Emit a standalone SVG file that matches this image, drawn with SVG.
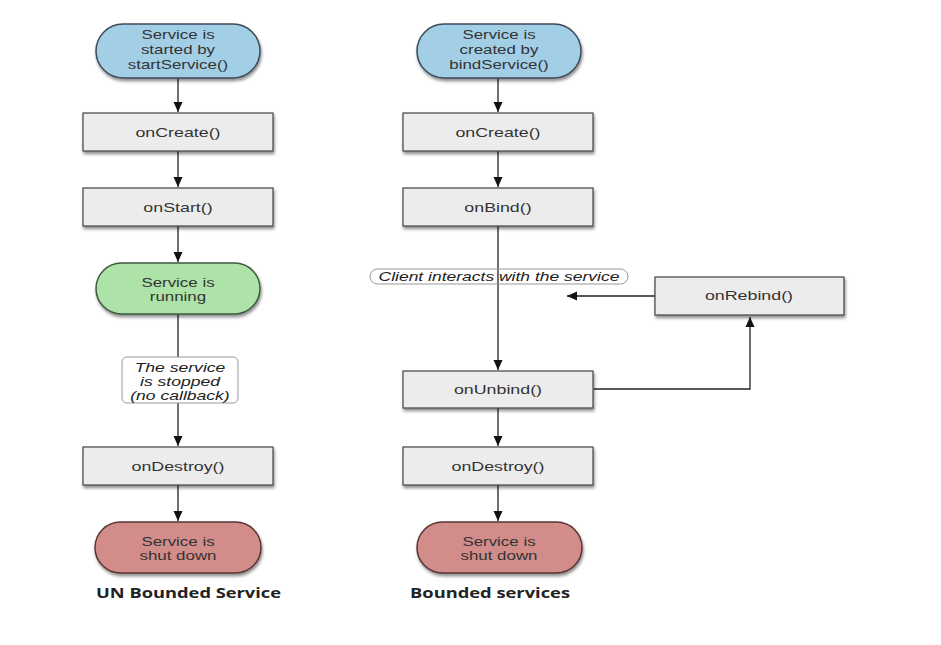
<svg xmlns="http://www.w3.org/2000/svg" width="941" height="645" viewBox="0 0 941 645">
<defs>
<filter id="sh" x="-10%" y="-20%" width="130%" height="160%">
<feDropShadow dx="1" dy="2.5" stdDeviation="1.8" flood-color="#000" flood-opacity="0.45"/>
</filter>
<marker id="ah" markerWidth="11" markerHeight="11" refX="10" refY="5.5" orient="auto" markerUnits="userSpaceOnUse">
<path d="M0,1 L10,5.5 L0,10 Z" fill="#111"/>
</marker>
</defs>
<style>
.box{fill:#ececec;stroke:#444;stroke-width:1.2;filter:url(#sh)}
.blue{fill:#a3cfe6;stroke:#3c4b58;stroke-width:1.5;filter:url(#sh)}
.green{fill:#ade3a8;stroke:#3c5a3c;stroke-width:1.5;filter:url(#sh)}
.red{fill:#d28c8a;stroke:#5a3434;stroke-width:1.5;filter:url(#sh)}
.lbl{fill:#ffffff;stroke:#999;stroke-width:1}
.lbl2{fill:none;stroke:#999;stroke-width:1}
.t{font-family:"Liberation Sans",Arial,sans-serif;font-size:13px;fill:#333;text-anchor:middle}
.it{font-family:"Liberation Sans",Arial,sans-serif;font-size:13px;font-style:italic;fill:#222;text-anchor:middle}
.it2{font-family:"Liberation Sans",Arial,sans-serif;font-size:12.5px;font-style:italic;fill:#222;text-anchor:middle}
.title{font-family:"Open Sans","DejaVu Sans",sans-serif;font-size:15px;font-weight:bold;fill:#222}
.c{stroke:#222;stroke-width:1.3;fill:none}
.ca{stroke:#222;stroke-width:1.3;fill:none;marker-end:url(#ah)}
</style>
<rect width="941" height="645" fill="#ffffff"/>

<g id="connectors">
<line class="ca" x1="178" y1="78" x2="178" y2="112"/>
<line class="ca" x1="178" y1="151" x2="178" y2="187"/>
<line class="ca" x1="178" y1="226" x2="178" y2="262"/>
<line class="c" x1="178" y1="314" x2="178" y2="357"/>
<line class="ca" x1="178" y1="403" x2="178" y2="446"/>
<line class="ca" x1="178" y1="485" x2="178" y2="521"/>
<line class="ca" x1="498" y1="78" x2="498" y2="112"/>
<line class="ca" x1="498" y1="151" x2="498" y2="187"/>
<line class="ca" x1="498" y1="226" x2="498" y2="370"/>
<line class="ca" x1="498" y1="408" x2="498" y2="446"/>
<line class="ca" x1="498" y1="485" x2="498" y2="521"/>
<polyline class="ca" points="594,389 750,389 750,317"/>
<line class="ca" x1="655" y1="296" x2="567" y2="296"/>
</g>

<g id="start1">
<rect class="blue" x="96" y="24" width="164" height="54" rx="27"/>
<g transform="matrix(1.3,0,0,1,-53.4,0)">
<text class="t" x="178" y="39">Service is</text>
<text class="t" x="178" y="54">started by</text>
<text class="t" x="178" y="69">startService()</text>
</g>
</g>
<g id="onCreate1">
<rect class="box" x="83" y="113" width="190" height="38"/>
<text class="t" x="178" y="137" transform="matrix(1.37,0,0,1,-65.86,0)">onCreate()</text>
</g>
<g id="onStart">
<rect class="box" x="83" y="188" width="190" height="38"/>
<text class="t" x="178" y="212" transform="matrix(1.37,0,0,1,-65.86,0)">onStart()</text>
</g>
<g id="running">
<rect class="green" x="96" y="263" width="164" height="51" rx="25.5"/>
<g transform="matrix(1.3,0,0,1,-53.4,0)">
<text class="t" x="178" y="287">Service is</text>
<text class="t" x="178" y="301">running</text>
</g>
</g>
<g id="stopped">
<rect class="lbl" x="122" y="357" width="116" height="46" rx="5"/>
<g transform="matrix(1.35,0,0,1,-63,0)">
<text class="it" x="180" y="372">The service</text>
<text class="it" x="180" y="386">is stopped</text>
<text class="it" x="180" y="400">(no callback)</text>
</g>
</g>
<g id="onDestroy1">
<rect class="box" x="83" y="447" width="190" height="38"/>
<text class="t" x="178" y="471" transform="matrix(1.37,0,0,1,-65.86,0)">onDestroy()</text>
</g>
<g id="shut1">
<rect class="red" x="95" y="522" width="166" height="51" rx="25.5"/>
<g transform="matrix(1.3,0,0,1,-53.4,0)">
<text class="t" x="178" y="546">Service is</text>
<text class="t" x="178" y="560">shut down</text>
</g>
</g>
<text class="title" x="96" y="598" textLength="185" lengthAdjust="spacingAndGlyphs">UN Bounded Service</text>

<g id="start2">
<rect class="blue" x="417" y="24" width="164" height="54" rx="27"/>
<g transform="matrix(1.3,0,0,1,-149.7,0)">
<text class="t" x="499" y="39">Service is</text>
<text class="t" x="499" y="54">created by</text>
<text class="t" x="499" y="69">bindService()</text>
</g>
</g>
<g id="onCreate2">
<rect class="box" x="403" y="113" width="190" height="38"/>
<text class="t" x="498" y="137" transform="matrix(1.37,0,0,1,-184.26,0)">onCreate()</text>
</g>
<g id="onBind">
<rect class="box" x="403" y="188" width="190" height="38"/>
<text class="t" x="498" y="212" transform="matrix(1.37,0,0,1,-184.26,0)">onBind()</text>
</g>
<g id="client">
<rect class="lbl2" x="370" y="269" width="258" height="15" rx="7.5"/>
<text class="it2" x="499" y="281" transform="matrix(1.4,0,0,1,-199.6,0)">Client interacts with the service</text>
</g>
<g id="onRebind">
<rect class="box" x="655" y="277" width="189" height="38"/>
<text class="t" x="749" y="300" transform="matrix(1.37,0,0,1,-277.13,0)">onRebind()</text>
</g>
<g id="onUnbind">
<rect class="box" x="403" y="371" width="190" height="37"/>
<text class="t" x="498" y="394" transform="matrix(1.37,0,0,1,-184.26,0)">onUnbind()</text>
</g>
<g id="onDestroy2">
<rect class="box" x="403" y="447" width="190" height="38"/>
<text class="t" x="498" y="471" transform="matrix(1.37,0,0,1,-184.26,0)">onDestroy()</text>
</g>
<g id="shut2">
<rect class="red" x="417" y="522" width="165" height="51" rx="25.5"/>
<g transform="matrix(1.3,0,0,1,-149.7,0)">
<text class="t" x="499" y="546">Service is</text>
<text class="t" x="499" y="560">shut down</text>
</g>
</g>
<text class="title" x="410" y="598" textLength="160" lengthAdjust="spacingAndGlyphs">Bounded services</text>
</svg>
